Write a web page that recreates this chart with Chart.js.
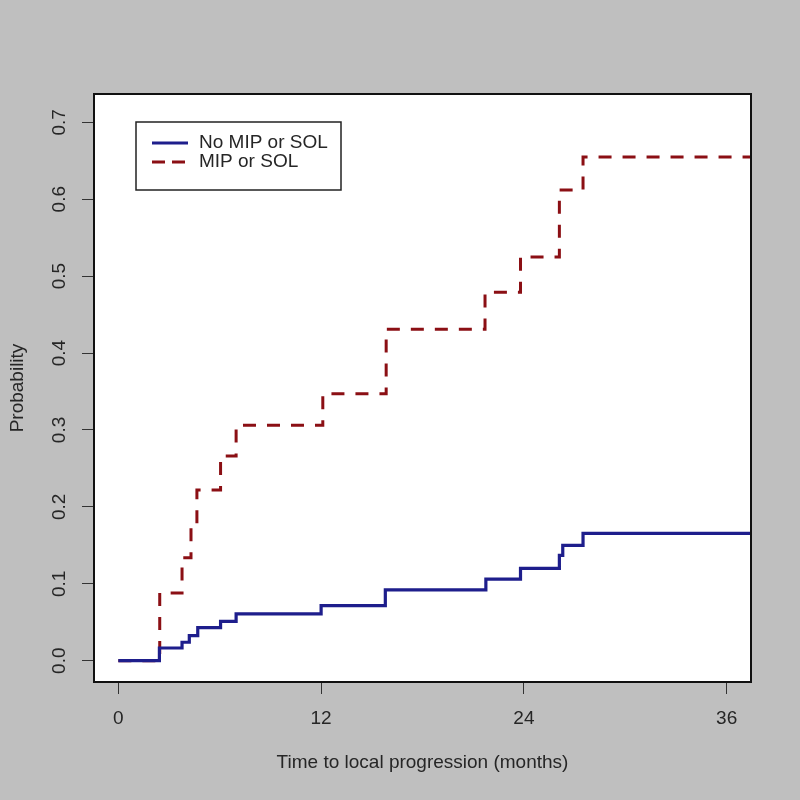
<!DOCTYPE html>
<html>
<head>
<meta charset="utf-8">
<script src="https://cdn.jsdelivr.net/npm/chart.js@4"></script>
<style>
  html, body { margin: 0; padding: 0; background: #bfbfbf; }
  #wrap { width: 800px; height: 800px; }
</style>
</head>
<body>
<div id="wrap"><canvas id="c" width="800" height="800"></canvas></div>
<script>
// ---- data ----
const seriesNames = ["No MIP or SOL", "MIP or SOL"];
const noMipTimes  = [0, 2.43, 3.77, 4.2, 4.7, 6.05, 6.97, 12.0, 15.8, 21.75, 23.8, 26.1, 26.3, 27.5, 37.4];
const noMipProb   = [0, 0.0165, 0.024, 0.0325, 0.043, 0.051, 0.061, 0.0715, 0.092, 0.106, 0.12, 0.137, 0.15, 0.1655, 0.1655];
const mipTimes    = [0, 2.45, 3.77, 4.3, 4.65, 6.05, 6.97, 12.1, 15.85, 21.7, 23.8, 26.1, 27.5, 37.4];
const mipProb     = [0, 0.088, 0.134, 0.176, 0.222, 0.266, 0.306, 0.347, 0.431, 0.479, 0.525, 0.612, 0.655, 0.655];
const xTickValues = [0, 12, 24, 36];
const xTickLabels = ["0", "12", "24", "36"];
const yTickValues = [0, 0.1, 0.2, 0.3, 0.4, 0.5, 0.6, 0.7];
const yTickLabels = ["0.0", "0.1", "0.2", "0.3", "0.4", "0.5", "0.6", "0.7"];
const xTitle = "Time to local progression (months)";
const yTitle = "Probability";

const FONT = "'Liberation Sans', Arial, Helvetica, sans-serif";
const TEXT = "#262626";
const BLUE = "#1e1e8c";
const RED = "#8b0f14";

const toPts = (xs, ys) => xs.map((x, i) => ({ x: x, y: ys[i] }));

const framePlugin = {
  id: 'frame',
  beforeDatasetsDraw(chart) {
    const { ctx, chartArea: a } = chart;
    ctx.save();
    ctx.fillStyle = '#ffffff';
    ctx.fillRect(a.left, a.top, a.right - a.left, a.bottom - a.top);
    ctx.restore();
  },
  afterDraw(chart) {
    const { ctx, chartArea: a } = chart;
    ctx.save();
    // box
    ctx.strokeStyle = '#111';
    ctx.lineWidth = 2;
    ctx.strokeRect(a.left, a.top, a.right - a.left, a.bottom - a.top);
    // y tick labels (rotated, as in R)
    const ys = chart.scales.y;
    ctx.fillStyle = TEXT;
    ctx.font = "19px " + FONT;
    ctx.textAlign = 'center';
    ctx.textBaseline = 'middle';
    yTickValues.forEach((v, i) => {
      const py = ys.getPixelForValue(v);
      ctx.save();
      ctx.translate(a.left - 34, py);
      ctx.rotate(-Math.PI / 2);
      ctx.fillText(yTickLabels[i], 0, 0);
      ctx.restore();
    });
    // legend box
    const lx = a.left + 42, ly = a.top + 28, lw = 205, lh = 68;
    ctx.fillStyle = '#ffffff';
    ctx.fillRect(lx, ly, lw, lh);
    ctx.strokeStyle = '#222';
    ctx.lineWidth = 1.5;
    ctx.strokeRect(lx, ly, lw, lh);
    const rows = [
      { color: BLUE, dash: [], width: 2.8 },
      { color: RED, dash: [13, 7], width: 3 }
    ];
    rows.forEach((r, i) => {
      const yy = ly + 21 + i * 19;
      ctx.beginPath();
      ctx.setLineDash(r.dash);
      ctx.strokeStyle = r.color;
      ctx.lineWidth = r.width;
      ctx.moveTo(lx + 16, yy);
      ctx.lineTo(lx + 52, yy);
      ctx.stroke();
      ctx.setLineDash([]);
      ctx.fillStyle = TEXT;
      ctx.font = "19px " + FONT;
      ctx.textAlign = 'left';
      ctx.textBaseline = 'middle';
      ctx.fillText(seriesNames[i], lx + 63, yy);
    });
    ctx.restore();
  }
};

new Chart(document.getElementById('c'), {
  type: 'line',
  data: {
    datasets: [
      {
        label: seriesNames[0],
        data: toPts(noMipTimes, noMipProb),
        borderColor: BLUE,
        borderWidth: 3.2,
        stepped: 'before',
        pointRadius: 0,
        fill: false,
        order: 0
      },
      {
        label: seriesNames[1],
        data: toPts(mipTimes, mipProb),
        borderColor: RED,
        borderWidth: 3,
        borderDash: [13, 11],
        stepped: 'before',
        pointRadius: 0,
        fill: false,
        order: 1
      }
    ]
  },
  options: {
    responsive: false,
    animation: false,
    layout: { padding: { left: 0, top: 94, right: 49, bottom: 0 } },
    plugins: { legend: { display: false }, tooltip: { enabled: false } },
    scales: {
      x: {
        type: 'linear',
        min: -1.44,
        max: 37.44,
        afterBuildTicks: s => { s.ticks = xTickValues.map(v => ({ value: v })); },
        afterFit: s => { s.height = 118; },
        grid: { drawOnChartArea: false, drawTicks: true, tickLength: 12, color: '#333', tickWidth: 1 },
        border: { display: false },
        ticks: {
          color: TEXT,
          font: { family: FONT, size: 19 },
          padding: 13,
          maxRotation: 0,
          autoSkip: false,
          callback: (v) => { const i = xTickValues.indexOf(v); return i >= 0 ? xTickLabels[i] : ''; }
        },
        title: {
          display: true,
          text: xTitle,
          color: TEXT,
          font: { family: FONT, size: 19 },
          padding: { top: 0, bottom: 26 }
        }
      },
      y: {
        type: 'linear',
        min: -0.0277,
        max: 0.7368,
        afterBuildTicks: s => { s.ticks = yTickValues.map(v => ({ value: v })); },
        afterFit: s => { s.width = 94; },
        grid: { drawOnChartArea: false, drawTicks: true, tickLength: 12, color: '#333', tickWidth: 1 },
        border: { display: false },
        ticks: { display: false },
        title: {
          display: true,
          text: yTitle,
          color: TEXT,
          font: { family: FONT, size: 19 },
          padding: { top: 6, bottom: 0 }
        }
      }
    }
  },
  plugins: [framePlugin]
});
</script>
</body>
</html>
